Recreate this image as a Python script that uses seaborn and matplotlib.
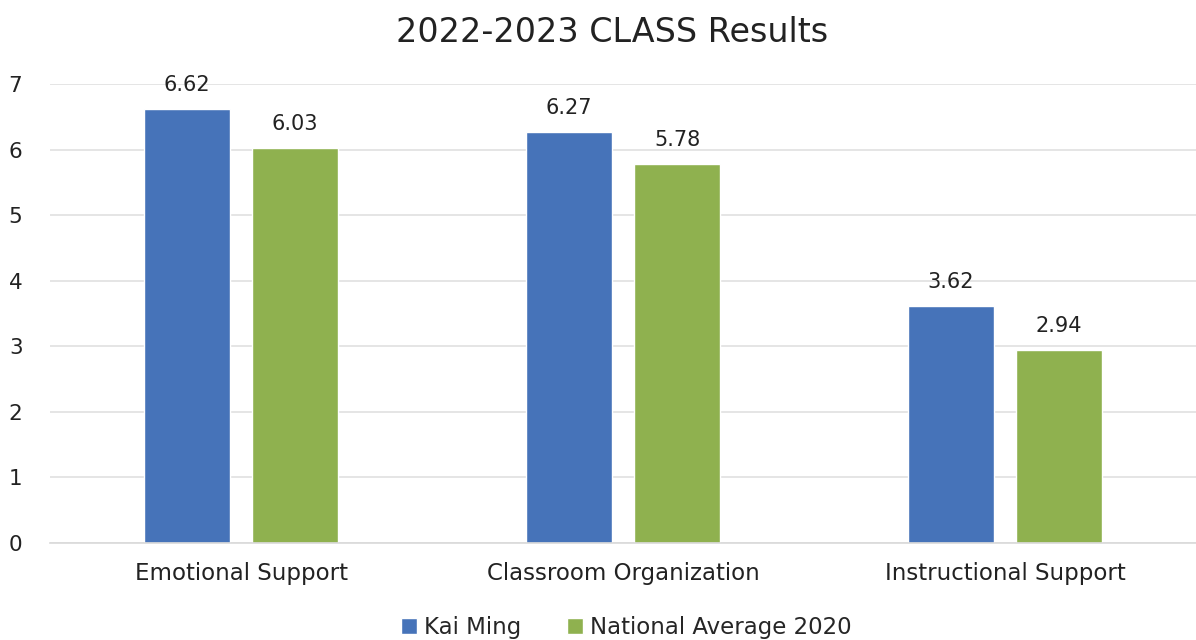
import matplotlib
matplotlib.use("Agg")
import matplotlib.pyplot as plt
import seaborn as sns
import pandas as pd

categories = ["Emotional Support", "Classroom Organization", "Instructional Support"]
series_names = ["Kai Ming", "National Average 2020"]
kai_ming = [6.62, 6.27, 3.62]
national_avg = [6.03, 5.78, 2.94]
y_ticks = [0, 1, 2, 3, 4, 5, 6, 7]
title = "2022-2023 CLASS Results"
colors = ["#4673B9", "#8FB14F"]

df = pd.DataFrame({
    "category": categories * 2,
    "series": [series_names[0]] * 3 + [series_names[1]] * 3,
    "value": kai_ming + national_avg,
})

sns.set_theme(style="white")
plt.rcParams["font.family"] = ["DejaVu Sans"]

fig = plt.figure(figsize=(11.96, 6.4), dpi=100)
ax = fig.add_axes([0.042, 0.1516, 0.958, 0.7172])

sns.barplot(data=df, x="category", y="value", hue="series", order=categories,
            hue_order=series_names, palette=colors, width=0.565, gap=0.2,
            saturation=1, ax=ax, legend=True)

ax.set_xlim(-0.5, 2.5)
ax.set_ylim(0, 7)
ax.set_yticks(y_ticks)
ax.yaxis.grid(True, color="#E0E0E0", linewidth=1.2)
ax.set_axisbelow(True)
for s in ["top", "right", "left"]:
    ax.spines[s].set_visible(False)
ax.spines["bottom"].set_color("#D9D9D9")
ax.spines["bottom"].set_linewidth(1.2)
ax.tick_params(axis="y", length=0, labelsize=15.5, colors="#222222", pad=20)
ax.tick_params(axis="x", length=0, labelsize=16.5, colors="#222222", pad=14)
ax.set_xlabel("")
ax.set_ylabel("")

for cont in ax.containers:
    ax.bar_label(cont, fmt="%.2f", padding=10, fontsize=15, color="#222222")

ax.set_title(title, fontsize=24, color="#222222", pad=30, x=0.49)

handles, labels = ax.get_legend_handles_labels()
ax.legend_.remove()
fig.legend(handles, labels, loc="center", bbox_to_anchor=(0.524, 0.02), ncol=2,
           frameon=False, fontsize=16.5, handlelength=0.7, handleheight=0.7,
           handletextpad=0.3, columnspacing=2.0)

fig.savefig("out.png", dpi=100)
